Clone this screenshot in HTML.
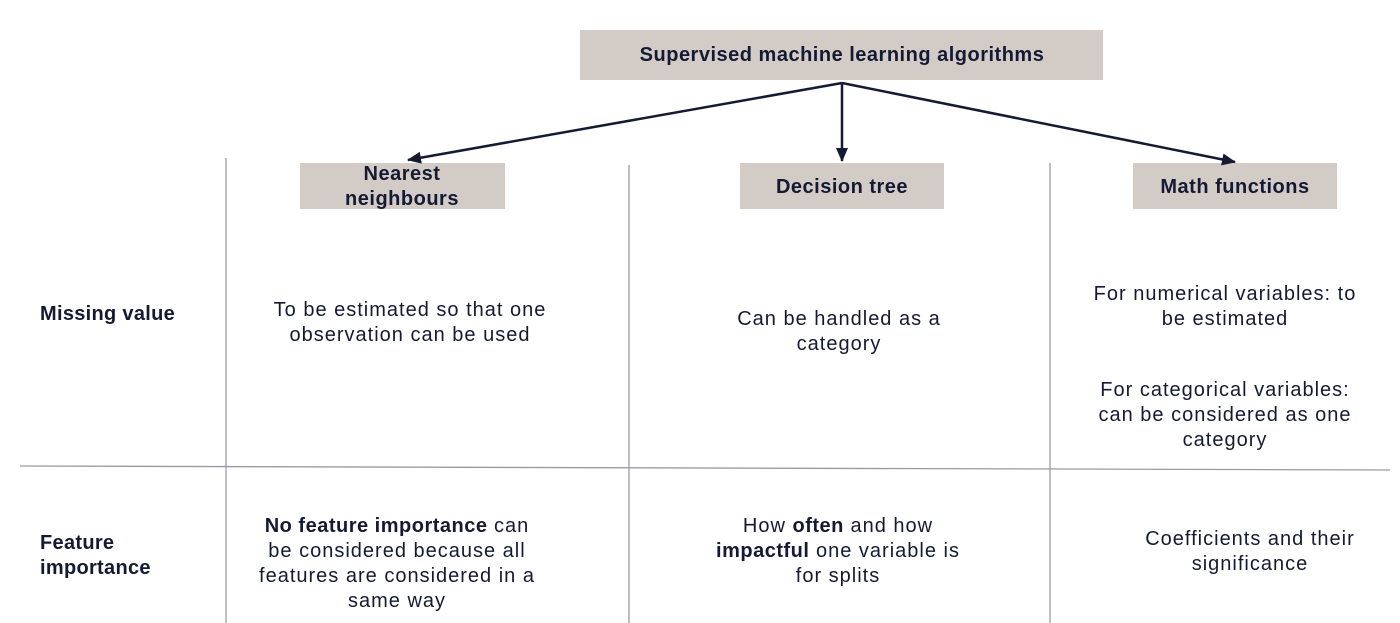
<!DOCTYPE html>
<html><head><meta charset="utf-8"><style>
body{margin:0;width:1400px;height:623px;background:#fff;position:relative;overflow:hidden;font-family:"Liberation Sans",sans-serif;color:#151a33}
.b{position:absolute;background:#d3cbc6}
.t{position:absolute;font-size:20px;line-height:25px;letter-spacing:1px;text-align:center;white-space:nowrap;transform:translateX(-50%)}
.h{font-weight:bold;letter-spacing:0.5px}
.t b{letter-spacing:0.5px}
.l{position:absolute;font-size:20px;line-height:25px;font-weight:bold;letter-spacing:0.3px;white-space:nowrap}
</style></head><body>
<div class="b" style="left:580px;top:30px;width:523px;height:50px"></div>
<div class="b" style="left:300px;top:163px;width:205px;height:46px"></div>
<div class="b" style="left:740px;top:163px;width:204px;height:46px"></div>
<div class="b" style="left:1133px;top:163px;width:204px;height:46px"></div>
<svg width="1400" height="623" style="position:absolute;left:0;top:0">
<defs><marker id="a" markerWidth="14" markerHeight="12" refX="13" refY="6" orient="auto" markerUnits="userSpaceOnUse"><path d="M0,0 L14,6 L0,12z" fill="#151a33"/></marker></defs>
<g stroke="#151a33" stroke-width="2.5" fill="none">
<line x1="842" y1="83" x2="408" y2="160" marker-end="url(#a)"/>
<line x1="842" y1="83" x2="842" y2="161" marker-end="url(#a)"/>
<line x1="842" y1="83" x2="1235" y2="162" marker-end="url(#a)"/>
</g>
<g stroke="#9a9aa6" stroke-width="1.3">
<line x1="226" y1="158" x2="226" y2="623"/>
<line x1="629" y1="165" x2="629" y2="623"/>
<line x1="1050" y1="163" x2="1050" y2="623"/>
<line x1="20" y1="466" x2="1390" y2="470"/>
</g>
</svg>
<div class="t h" style="left:842px;top:43px">Supervised machine learning algorithms</div>
<div class="t h" style="left:402px;top:162px">Nearest<br>neighbours</div>
<div class="t h" style="left:842px;top:175px">Decision tree</div>
<div class="t h" style="left:1235px;top:175px">Math functions</div>
<div class="l" style="left:40px;top:302px">Missing value</div>
<div class="l" style="left:40px;top:531px">Feature<br>importance</div>
<div class="t" style="left:410px;top:298px">To be estimated so that one<br>observation can be used</div>
<div class="t" style="left:839px;top:307px">Can be handled as a<br>category</div>
<div class="t" style="left:1225px;top:282px">For numerical variables: to<br>be estimated</div>
<div class="t" style="left:1225px;top:378px">For categorical variables:<br>can be considered as one<br>category</div>
<div class="t" style="left:397px;top:514px"><b>No feature importance</b> can<br>be considered because all<br>features are considered in a<br>same way</div>
<div class="t" style="left:838px;top:514px">How <b>often</b> and how<br><b>impactful</b> one variable is<br>for splits</div>
<div class="t" style="left:1250px;top:527px">Coefficients and their<br>significance</div>
</body></html>
